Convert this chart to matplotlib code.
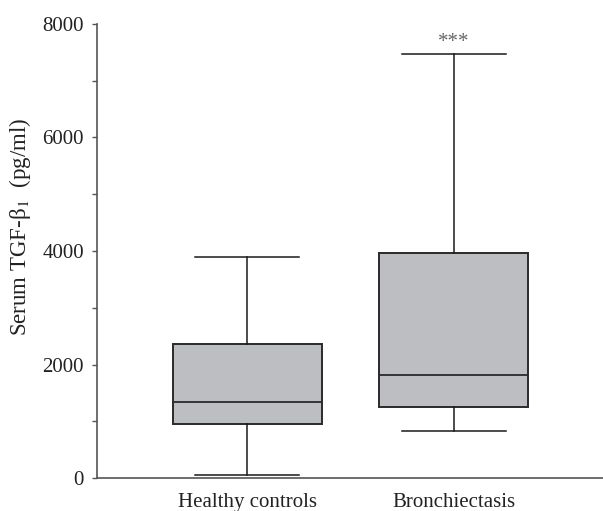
import matplotlib
matplotlib.use("Agg")
import matplotlib.pyplot as plt
from matplotlib.ticker import MultipleLocator

# Data
categories = ["Healthy controls", "Bronchiectasis"]
whisker_low = [60, 825]
q1 = [945, 1243]
median = [1332, 1812]
q3 = [2354, 3972]
whisker_high = [3895, 7480]
tick_values = [0, 2000, 4000, 6000, 8000]
significance = ["", "***"]

plt.rcParams['font.family'] = ['Liberation Serif', 'DejaVu Serif']
plt.rcParams['mathtext.fontset'] = 'stix'

fig = plt.figure(figsize=(6.03, 5.11), dpi=100)
ax = fig.add_axes([97/603, 33/511, 1 - 97/603, (478-24)/511])

stats = []
for i, name in enumerate(categories):
    stats.append(dict(label=name, whislo=whisker_low[i], q1=q1[i], med=median[i],
                      q3=q3[i], whishi=whisker_high[i], fliers=[]))

positions = [1, 2]
ax.bxp(stats, positions=positions, widths=0.72, capwidths=0.5, patch_artist=True,
       showfliers=False,
       boxprops=dict(facecolor='#bdbec2', edgecolor='#2a2a2a', linewidth=1.4),
       medianprops=dict(color='#2a2a2a', linewidth=1.3),
       whiskerprops=dict(color='#1a1a1a', linewidth=1.1),
       capprops=dict(color='#1a1a1a', linewidth=1.1))

ax.set_xlim(1 - 0.725, 2 + 0.72)
ax.set_ylim(0, 8000)
ax.set_yticks(tick_values)
ax.yaxis.set_minor_locator(MultipleLocator(1000))
ax.set_xticks(positions)
ax.set_xticklabels(categories)

for s in ['top', 'right']:
    ax.spines[s].set_visible(False)
for s in ['left', 'bottom']:
    ax.spines[s].set_color('#555555')
    ax.spines[s].set_linewidth(1.2)

ax.tick_params(axis='y', which='both', direction='out', length=3.5, width=1.0,
               color='#555555', labelsize=15, pad=6, labelcolor='#222222')
ax.tick_params(axis='x', length=0, labelsize=15, pad=11, labelcolor='#222222')

ax.set_ylabel("Serum TGF-β$_1$  (pg/ml)", fontsize=16.5, color='#222222')
ax.yaxis.set_label_coords(-0.126, 0.554)

for i, txt in enumerate(significance):
    if txt:
        ax.text(positions[i], whisker_high[i] + 200, txt, ha='center', va='center',
                fontsize=15, color='#666666')

fig.savefig("out.png", dpi=100)
